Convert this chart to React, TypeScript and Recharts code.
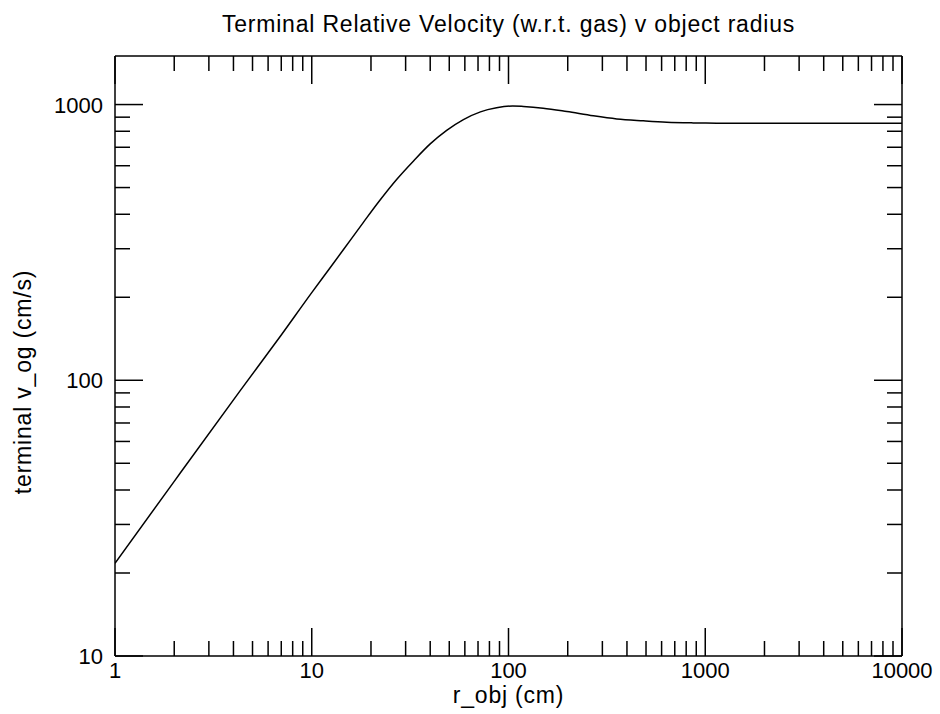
import React from 'react';
import { LineChart, Line, XAxis, YAxis } from 'recharts';

const R_OBJ = [1, 2, 4.32, 7, 10, 12.4, 14.5, 18.3, 22, 27, 33, 40, 48.5, 59, 72, 87, 105, 119, 150, 198, 270, 355, 484, 637, 869, 1143, 2000, 5000, 10000];
const V_OG = [21.7, 43, 91.5, 146, 208, 256, 298, 374, 446, 535, 626, 720, 806, 882, 941, 973, 988, 984, 970, 943, 910, 887, 873, 863, 858, 856, 855, 855, 855];

const X_MAJOR = [1, 10, 100, 1000, 10000];
const X_MINOR = [2, 3, 4, 5, 6, 7, 8, 9, 20, 30, 40, 50, 60, 70, 80, 90, 200, 300, 400, 500, 600, 700, 800, 900, 2000, 3000, 4000, 5000, 6000, 7000, 8000, 9000];
const Y_MAJOR = [10, 100, 1000];
const Y_MINOR = [20, 30, 40, 50, 60, 70, 80, 90, 200, 300, 400, 500, 600, 700, 800, 900];

const TITLE = 'Terminal Relative Velocity (w.r.t. gas) v object radius';
const X_LABEL = 'r_obj (cm)';
const Y_LABEL = 'terminal v_og (cm/s)';

const FONT = '"Liberation Sans", Arial, Helvetica, sans-serif';
const W = 940;
const H = 714;
const PLOT = { left: 115, top: 56, right: 902, bottom: 656 };

const data = R_OBJ.map((r, i) => ({ r, v: V_OG[i] }));
const X_TICKS = [...X_MAJOR, ...X_MINOR].sort((a, b) => a - b);
const Y_TICKS = [...Y_MAJOR, ...Y_MINOR].sort((a, b) => a - b);

const MAJOR_LEN = 28;
const MINOR_LEN = 15;
const TICK_W = 1.5;
const TICK_FS = 22;
const LABEL_FS = 23;
const LABEL_LS = 0.8;

function makeXTick(side: 'bottom' | 'top') {
  return (props: any) => {
    const { x, y, payload } = props;
    const v = payload.value;
    const major = X_MAJOR.includes(v);
    const len = major ? MAJOR_LEN : MINOR_LEN;
    const dir = side === 'bottom' ? -1 : 1;
    return (
      <g>
        <line x1={x} x2={x} y1={y} y2={y + dir * len} stroke="#000" strokeWidth={TICK_W} />
        {side === 'bottom' && major ? (
          <text x={x} y={y + 22} textAnchor="middle" fontSize={TICK_FS} fill="#000" fontFamily={FONT}>
            {v}
          </text>
        ) : null}
      </g>
    );
  };
}

function makeYTick(side: 'left' | 'right') {
  return (props: any) => {
    const { x, y, payload } = props;
    const v = payload.value;
    const major = Y_MAJOR.includes(v);
    const len = major ? MAJOR_LEN : MINOR_LEN;
    const dir = side === 'left' ? 1 : -1;
    return (
      <g>
        <line x1={x} x2={x + dir * len} y1={y} y2={y} stroke="#000" strokeWidth={TICK_W} />
        {side === 'left' && major ? (
          <text x={x - 12} y={y + 8} textAnchor="end" fontSize={TICK_FS} fill="#000" fontFamily={FONT}>
            {v}
          </text>
        ) : null}
      </g>
    );
  };
}

const axisLine = { stroke: '#000', strokeWidth: 1.5 };

export default function App() {
  return (
    <div style={{ position: 'absolute', left: 0, top: 0, width: W, height: H, background: '#fff' }}>
      <LineChart
        width={W}
        height={H}
        data={data}
        margin={{ left: PLOT.left - 1, top: PLOT.top - 1, right: W - PLOT.right - 1, bottom: H - PLOT.bottom - 1 }}
      >
        <XAxis
          xAxisId="b"
          dataKey="r"
          type="number"
          scale="log"
          domain={[1, 10000]}
          allowDataOverflow
          ticks={X_TICKS}
          interval={0}
          height={1}
          tickSize={0}
          tickMargin={0}
          tickLine={false}
          axisLine={axisLine}
          tick={makeXTick('bottom')}
        />
        <XAxis
          xAxisId="t"
          dataKey="r"
          orientation="top"
          type="number"
          scale="log"
          domain={[1, 10000]}
          allowDataOverflow
          ticks={X_TICKS}
          interval={0}
          height={1}
          tickSize={0}
          tickMargin={0}
          tickLine={false}
          axisLine={axisLine}
          tick={makeXTick('top')}
        />
        <YAxis
          yAxisId="l"
          type="number"
          scale="log"
          domain={[10, 1500]}
          allowDataOverflow
          ticks={Y_TICKS}
          interval={0}
          width={1}
          tickSize={0}
          tickMargin={0}
          tickLine={false}
          axisLine={axisLine}
          tick={makeYTick('left')}
        />
        <YAxis
          yAxisId="r"
          orientation="right"
          type="number"
          scale="log"
          domain={[10, 1500]}
          allowDataOverflow
          ticks={Y_TICKS}
          interval={0}
          width={1}
          tickSize={0}
          tickMargin={0}
          tickLine={false}
          axisLine={axisLine}
          tick={makeYTick('right')}
        />
        <Line
          xAxisId="b"
          yAxisId="l"
          dataKey="v"
          type="monotone"
          dot={false}
          stroke="#000"
          strokeWidth={1.5}
          isAnimationActive={false}
        />
        <text x={(PLOT.left + PLOT.right) / 2} y={32} textAnchor="middle" fontSize={LABEL_FS} letterSpacing={LABEL_LS} fill="#000" fontFamily={FONT}>
          {TITLE}
        </text>
        <text x={(PLOT.left + PLOT.right) / 2} y={703} textAnchor="middle" fontSize={LABEL_FS} letterSpacing={LABEL_LS} fill="#000" fontFamily={FONT}>
          {X_LABEL}
        </text>
        <text
          x={31}
          y={382}
          textAnchor="middle"
          fontSize={LABEL_FS}
          letterSpacing={LABEL_LS}
          fill="#000"
          fontFamily={FONT}
          transform="rotate(-90 31 382)"
        >
          {Y_LABEL}
        </text>
      </LineChart>
    </div>
  );
}
